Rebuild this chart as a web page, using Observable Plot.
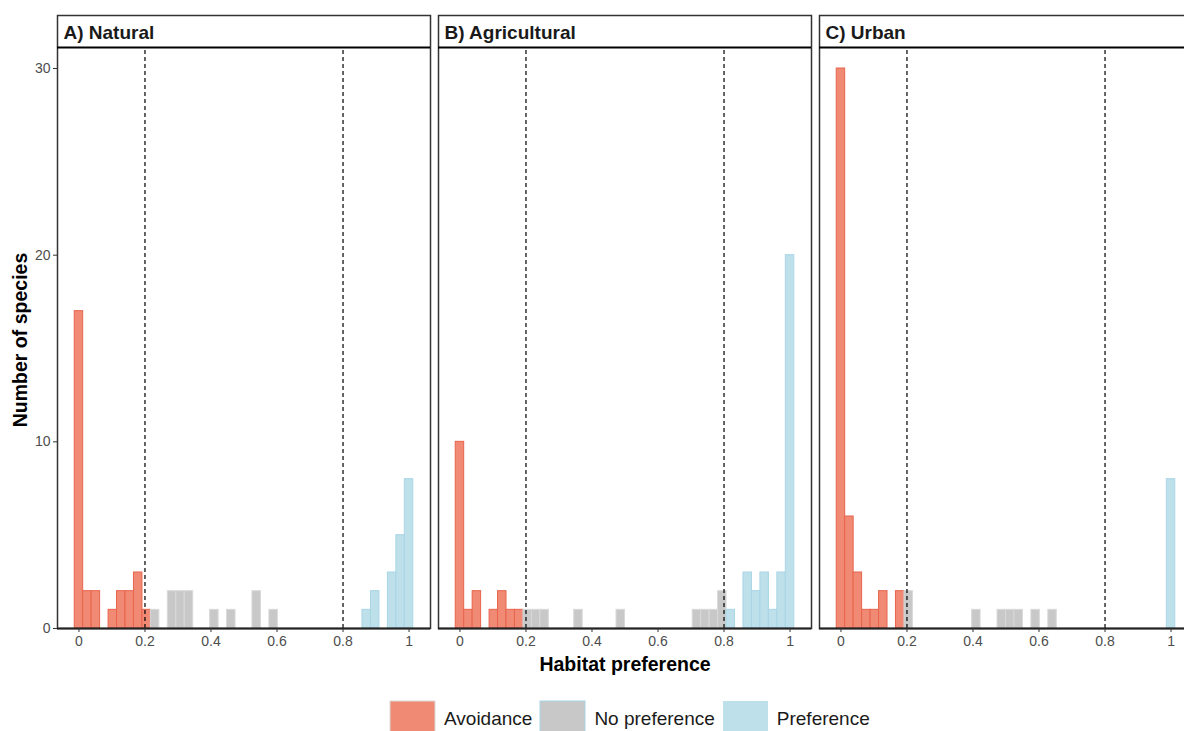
<!DOCTYPE html>
<html><head><meta charset="utf-8">
<script src="https://cdn.jsdelivr.net/npm/d3@7"></script>
<script src="https://cdn.jsdelivr.net/npm/@observablehq/plot@0.6"></script>
<style>
body{margin:0;background:#fff;overflow:hidden;}
#chart{position:relative;width:1184px;height:731px;overflow:hidden;font-family:"Liberation Sans",Arial,sans-serif;}
#plot svg{max-width:none !important;}
#legend{position:absolute;left:390px;top:701px;}
.lg-swatches-wrap .lg-swatch{margin-right:8px !important;}
.lg-swatch > svg{margin-right:9px !important;}
.lg-swatch:nth-child(1) svg rect{stroke:#E8644D;stroke-width:1;}
.lg-swatch:nth-child(2) svg rect{stroke:#D9D9D9;stroke-width:1;}
.lg-swatch:nth-child(3) svg rect{stroke:#A9D5E5;stroke-width:1;}
</style></head>
<body><div id="chart"><div id="plot"></div><div id="legend"></div></div>
<script>
// ---- data ----
const panels = ["A) Natural", "B) Agricultural", "C) Urban"];
const classes = ["Avoidance", "No preference", "Preference"];
const classCode = {A: "Avoidance", N: "No preference", P: "Preference"};
const xTicks = [0, 0.2, 0.4, 0.6, 0.8, 1];
const yTicks = [0, 10, 20, 30];
const thresholds = [0.2, 0.8];
const binWidth = 1 / 39; // 40 bins centred on 0 … 1

// bin index (centre = index × binWidth), number of species, class
const naturalBins   = [0, 1, 2, 4, 5, 6, 7, 8, 9, 11, 12, 13, 16, 18, 21, 23, 34, 35, 37, 38, 39];
const naturalCounts = [17, 2, 2, 1, 2, 2, 3, 1, 1, 2, 2, 2, 1, 1, 2, 1, 1, 2, 3, 5, 8];
const naturalClass  = ["A","A","A","A","A","A","A","A","N","N","N","N","N","N","N","N","P","P","P","P","P"];

const agriBins   = [0, 1, 2, 4, 5, 6, 7, 8, 9, 10, 14, 19, 28, 29, 30, 31, 32, 34, 35, 36, 37, 38, 39];
const agriCounts = [10, 1, 2, 1, 2, 1, 1, 1, 1, 1, 1, 1, 1, 1, 1, 2, 1, 3, 2, 3, 1, 3, 20];
const agriClass  = ["A","A","A","A","A","A","A","N","N","N","N","N","N","N","N","N","P","P","P","P","P","P","P"];

const urbanBins   = [0, 1, 2, 3, 4, 5, 7, 8, 16, 19, 20, 21, 23, 25, 39];
const urbanCounts = [30, 6, 3, 1, 1, 2, 2, 2, 1, 1, 1, 1, 1, 1, 8];
const urbanClass  = ["A","A","A","A","A","A","A","N","N","N","N","N","N","N","P"];

// ---- styles ----
const fills   = ["#F18A74", "#C8C8C8", "#BDE0EA"];
const strokes = ["#E8644D", "#D9D9D9", "#A9D5E5"];
const panelTop = 31.125;  // top of plotting area (y units)
const stripTop = 32.84;   // top of strip box (y units)

const rows = [];
function addPanel(panel, bins, counts, cls) {
  bins.forEach((k, i) => rows.push({
    panel, x1: (k - 0.5) * binWidth, x2: (k + 0.5) * binWidth,
    count: counts[i], cls: classCode[cls[i]]
  }));
}
addPanel(panels[0], naturalBins, naturalCounts, naturalClass);
addPanel(panels[1], agriBins, agriCounts, agriClass);
addPanel(panels[2], urbanBins, urbanCounts, urbanClass);

const font = "Liberation Sans, Arial, sans-serif";

const barMarks = classes.map((c, i) => Plot.rect(rows.filter(d => d.cls === c), {
  fx: "panel", x1: "x1", x2: "x2", y1: 0, y2: "count",
  fill: fills[i], stroke: strokes[i], strokeWidth: 1
}));

const plot = Plot.plot({
  width: 1192, height: 690,
  marginLeft: 57, marginRight: 0, marginTop: 15, marginBottom: 62,
  style: {fontFamily: font, fontSize: "14px", color: "#4d4d4d", background: "white", overflow: "visible", maxWidth: "none"},
  fx: {domain: panels, paddingInner: 8 / 381, paddingOuter: 0, axis: null},
  x: {domain: [-0.065, 1.065], axis: null},
  y: {domain: [0, stripTop], axis: null},
  marks: [
    ...barMarks,
    Plot.ruleX(thresholds, {y1: 0, y2: panelTop, stroke: "black", strokeWidth: 1.2, strokeDasharray: "4,3"}),
    Plot.frame({stroke: "#333", strokeWidth: 1.5}),
    Plot.ruleY([panelTop], {stroke: "#000", strokeWidth: 2}),
    Plot.ruleY([0], {stroke: "#222", strokeWidth: 2.2}),
    Plot.text(panels, {fx: d => d, text: d => d, frameAnchor: "top-left", dx: 6, dy: 17,
      lineAnchor: "middle", fontWeight: "bold", fontSize: 19, fill: "#1a1a1a"}),
    Plot.axisX({ticks: xTicks, tickFormat: d => String(d), tickSize: 4, tickPadding: 4,
      stroke: "#333", fill: "#4d4d4d", label: null, fontSize: 14}),
    Plot.axisY({ticks: yTicks, tickSize: 4, tickPadding: 3, stroke: "#333", fill: "#4d4d4d",
      label: null, fontSize: 14}),
    Plot.text(["Number of species"], {fx: () => panels[0], text: d => d, frameAnchor: "left",
      textAnchor: "middle", dx: -37, dy: 18, rotate: -90, fontWeight: "bold", fontSize: 19.5, fill: "#000"}),
    Plot.text(["Habitat preference"], {fx: () => panels[1], text: d => d, frameAnchor: "bottom",
      dy: 36, lineAnchor: "middle", fontWeight: "bold", fontSize: 19.5, fill: "#000"})
  ]
});
document.getElementById("plot").appendChild(plot);

const legend = Plot.legend({
  color: {type: "ordinal", domain: classes, range: fills},
  legend: "swatches", swatchWidth: 45, swatchHeight: 36, className: "lg",
  style: {fontFamily: font, fontSize: "19px", color: "#1a1a1a"}
});
document.getElementById("legend").appendChild(legend);
</script>
</body></html>
